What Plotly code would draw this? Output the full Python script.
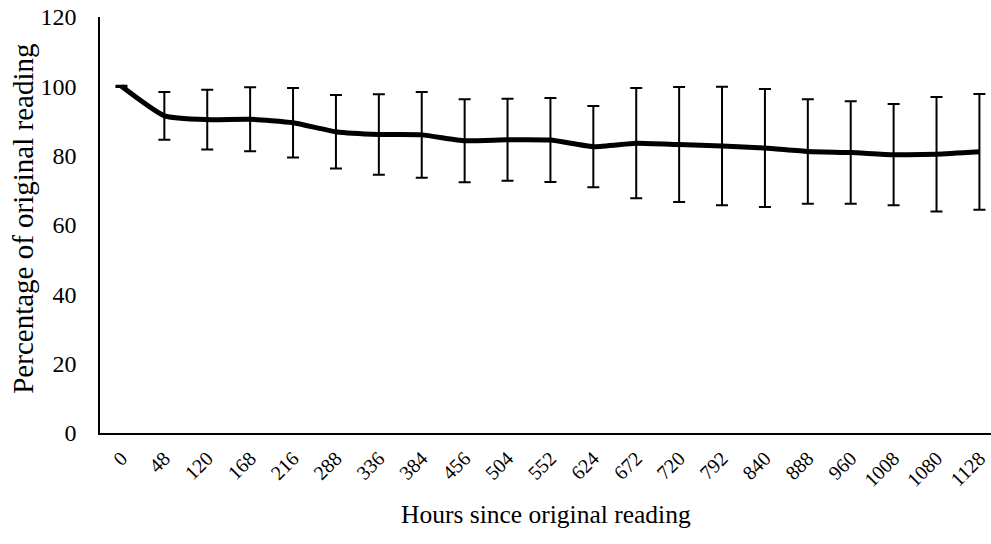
import plotly.graph_objects as go

hours = ["0", "48", "120", "168", "216", "288", "336", "384", "456", "504", "552",
         "624", "672", "720", "792", "840", "888", "960", "1008", "1080", "1128"]
mean_pct = [100.0, 91.5, 90.4, 90.5, 89.5, 86.9, 86.1, 86.0, 84.3, 84.6, 84.5,
            82.6, 83.6, 83.2, 82.8, 82.2, 81.2, 80.9, 80.3, 80.4, 81.1]
sd_pct = [0.2, 6.9, 8.6, 9.2, 10.0, 10.6, 11.6, 12.4, 12.0, 11.8, 12.1,
          11.7, 15.9, 16.6, 17.1, 17.0, 15.1, 14.8, 14.6, 16.5, 16.7]
y_ticks = [0, 20, 40, 60, 80, 100, 120]

FONT = "Liberation Serif"

fig = go.Figure()
fig.add_trace(go.Scatter(
    x=hours, y=mean_pct, mode="lines",
    line=dict(color="black", width=5, shape="spline", smoothing=0.5),
    error_y=dict(type="data", array=sd_pct, visible=True,
                 color="black", thickness=2, width=6),
    showlegend=False, hoverinfo="skip",
))

fig.update_layout(
    width=991, height=544,
    margin=dict(l=100, r=0, t=17, b=111),
    paper_bgcolor="white", plot_bgcolor="white",
    font=dict(family=FONT, color="black", size=20),
    xaxis=dict(
        type="category", range=[-0.5, 20.27],
        showline=True, linecolor="black", linewidth=1.5,
        showgrid=False, zeroline=False, ticks="",
        tickangle=-45, ticklabelstandoff=4,
        tickfont=dict(family=FONT, size=20, color="black"),
    ),
    yaxis=dict(
        range=[0, 120], tickvals=y_ticks,
        showline=True, linecolor="black", linewidth=1.5,
        showgrid=False, zeroline=False, ticks="",
        ticklabelstandoff=17,
        tickfont=dict(family=FONT, size=24, color="black"),
    ),
    annotations=[
        dict(text="Hours since original reading", xref="paper", yref="paper",
             x=0.5, y=-0.197, yanchor="middle", xanchor="center",
             showarrow=False,
             font=dict(family=FONT, size=25.5, color="black")),
        dict(text="Percentage of original reading", xref="paper", yref="paper",
             x=0, xshift=-77, y=0.515, textangle=-90, showarrow=False,
             xanchor="center", yanchor="middle",
             font=dict(family=FONT, size=29, color="black")),
    ],
)

fig.write_html("out.html")
